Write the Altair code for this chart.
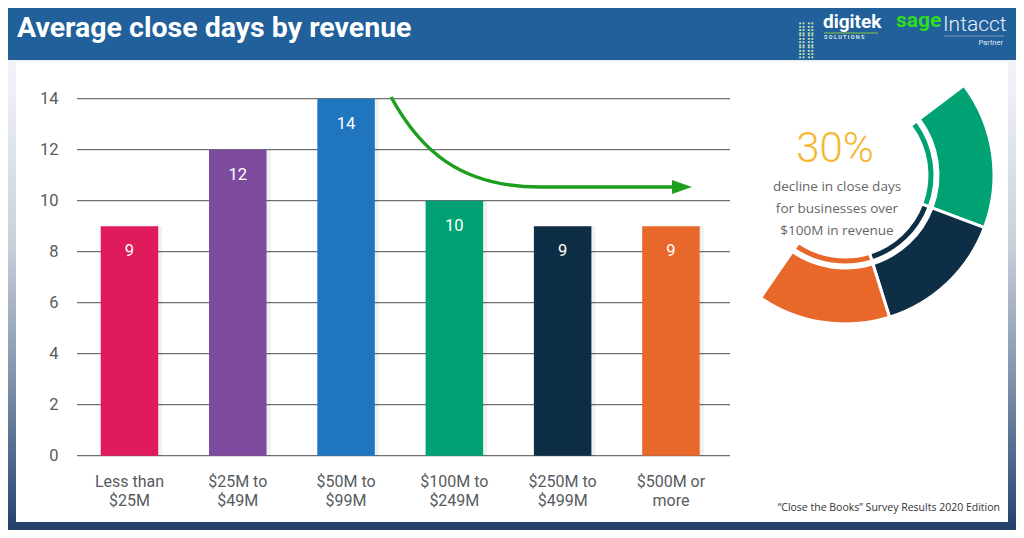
import altair as alt
import pandas as pd

# ---------------- data ----------------
categories = ["Less than $25M", "$25M to $49M", "$50M to $99M",
              "$100M to $249M", "$250M to $499M", "$500M or more"]
close_days = [9, 12, 14, 10, 9, 9]
bar_colors = ["#df1b5b", "#7d4a9e", "#1f76bf", "#00a274", "#0e2e45", "#e8672a"]
y_ticks = [0, 2, 4, 6, 8, 10, 12, 14]

ring_categories = ["$100M to $249M", "$250M to $499M", "$500M or more"]
ring_values = [10, 9, 9]
ring_colors = ["#00a274", "#0e2e45", "#e8672a"]

title_text = "Average close days by revenue"
headline = "30%"
headline_lines = ["decline in close days", "for businesses over", "$100M in revenue"]
source_text = "\u201cClose the Books\u201d Survey Results 2020 Edition"

FONT = "Open Sans"
AXIS_FONT = "Roboto"

# plot area: page x 77..730, page y 98.7..455.7
PLOT_W, PLOT_H = 653, 357
PAD = {"left": 69, "top": 90.7, "right": 286, "bottom": 74.3}


def px(x):  # page x -> plot x
    return x - 77


def py(y):  # page y -> plot y
    return y - 98.7


bars_df = pd.DataFrame({"cat": categories, "v": close_days, "color": bar_colors})
ticks_df = pd.DataFrame({"v": y_ticks})
ring_df = pd.DataFrame({"cat": ring_categories, "v": ring_values,
                        "color": ring_colors, "i": list(range(len(ring_values)))})
one = pd.DataFrame({"k": [0]})

xscale = alt.Scale(domain=categories, range=[0, 646.4], paddingInner=0.469, paddingOuter=0.219)
yscale = alt.Scale(domain=[0, 14], nice=False)

x_axis = alt.Axis(title=None, domain=False, ticks=False, grid=False, labelAngle=0,
                  zindex=1, labelPadding=17.5, labelLineHeight=19.5,
                  labelFont=AXIS_FONT, labelFontSize=16, labelColor="#575b60",
                  labelExpr="[slice(datum.label, 0, lastindexof(datum.label, ' ')), "
                            "slice(datum.label, lastindexof(datum.label, ' ') + 1)]")
y_axis = alt.Axis(title=None, domain=False, ticks=False, grid=False, values=y_ticks,
                  zindex=1, labelPadding=19, labelFont=AXIS_FONT,
                  labelFontSize=16.5, labelColor="#575b60")

X = alt.X("cat:N", sort=categories, scale=xscale, axis=x_axis)
Y = alt.Y("v:Q", scale=yscale, axis=y_axis)

# ---------------- background ----------------
grad = alt.LinearGradient(
    gradient="linear", x1=0, x2=0, y1=0, y2=1,
    stops=[alt.GradientStop(color="#f3f5f8", offset=0.0),
           alt.GradientStop(color="#eef1f5", offset=0.15),
           alt.GradientStop(color="#c9d1dc", offset=0.45),
           alt.GradientStop(color="#8495ad", offset=0.7),
           alt.GradientStop(color="#3a5680", offset=0.93),
           alt.GradientStop(color="#22406a", offset=1.0)])

bg = alt.Chart(one).mark_rect(fill=grad).encode(
    x=alt.value(px(8)), x2=alt.value(px(1016)), y=alt.value(py(8)), y2=alt.value(py(530)))
header = alt.Chart(one).mark_rect(fill="#21609a").encode(
    x=alt.value(px(8)), x2=alt.value(px(1016)), y=alt.value(py(8)), y2=alt.value(py(60)))
panel = alt.Chart(one).mark_rect(fill="#ffffff").encode(
    x=alt.value(px(16)), x2=alt.value(px(1008)), y=alt.value(py(62)), y2=alt.value(py(522)))

# ---------------- bar chart ----------------
grid = alt.Chart(ticks_df).mark_rule(color="#707070", strokeWidth=1.2).encode(
    y=Y, x=alt.value(0), x2=alt.value(PLOT_W))

shadow = alt.Chart(bars_df).mark_bar(color="#000000", opacity=0.06, xOffset=4).encode(
    x=X, y=Y)

bars = alt.Chart(bars_df).mark_bar().encode(
    x=X, y=Y, color=alt.Color("color:N", scale=None))

bar_labels = alt.Chart(bars_df).mark_text(
    color="white", font=AXIS_FONT, fontSize=16.5, dy=25, baseline="middle").encode(
    x=X, y=Y, text=alt.Text("v:Q"))

# ---------------- trend arrow ----------------
arrow_line = alt.Chart(one).mark_point(
    shape="M -0.993 -0.3 C -0.8 0.053 -0.533 0.3 0 0.3 L 0.9 0.3",
    filled=False, stroke="#1e9e1e", strokeWidth=3.5, size=90000, opacity=1).encode(
    x=alt.value(px(540)), y=alt.value(py(142)))
arrow_head = alt.Chart(one).mark_point(
    shape="M 0.88 0.253 L 1.013 0.3 L 0.88 0.347 Z",
    filled=True, fill="#1e9e1e", size=90000, opacity=1).encode(
    x=alt.value(px(540)), y=alt.value(py(142)))

# ---------------- donut ----------------
theta_scale = alt.Scale(range=[0.925, 3.744])
cx, cy = px(845), py(175)
ring_thin = alt.Chart(ring_df).mark_arc(radius=90, radius2=82, stroke="white", strokeWidth=3).encode(
    theta=alt.Theta("v:Q", stack=True, scale=theta_scale),
    order=alt.Order("i:Q"),
    color=alt.Color("color:N", scale=None),
    x=alt.value(cx), y=alt.value(cy))
ring_thick = alt.Chart(ring_df).mark_arc(radius=149, radius2=93, stroke="white", strokeWidth=3).encode(
    theta=alt.Theta("v:Q", stack=True, scale=theta_scale),
    order=alt.Order("i:Q"),
    color=alt.Color("color:N", scale=None),
    x=alt.value(cx), y=alt.value(cy))

pct = alt.Chart(one).mark_text(text=headline, font="Roboto", fontWeight=300, fontSize=42,
                               color="#f5b731", align="center", baseline="middle").encode(
    x=alt.value(px(835)), y=alt.value(py(149)))
desc = alt.Chart(one).mark_text(text=headline_lines, font=FONT, fontSize=13.5, lineHeight=22,
                                color="#666666", align="center", baseline="middle").encode(
    x=alt.value(px(837)), y=alt.value(py(187)))

# ---------------- header texts ----------------
title = alt.Chart(one).mark_text(text=title_text, font="Roboto", fontWeight="bold", fontSize=28.5,
                                 color="white", align="left", baseline="alphabetic").encode(
    x=alt.value(px(17)), y=alt.value(py(37)))
icon = alt.Chart(one).mark_text(text=["\u28ff\u28ff", "\u28ff\u28ff", "\u28ff\u28ff"],
                                font="DejaVu Sans", fontSize=12, lineHeight=12,
                                color="#cfe6b5", align="center", baseline="middle").encode(
    x=alt.value(px(806)), y=alt.value(py(28)))
digitek = alt.Chart(one).mark_text(text="digitek", font="Roboto", fontWeight="bold", fontSize=19,
                                   color="white", align="left", baseline="alphabetic").encode(
    x=alt.value(px(823)), y=alt.value(py(28)))
digitek_line = alt.Chart(one).mark_rule(color="#8cc63f", strokeWidth=1).encode(
    x=alt.value(px(824)), x2=alt.value(px(878)), y=alt.value(py(33)))
solutions = alt.Chart(one).mark_text(text="S O L U T I O N S", font="Roboto", fontWeight="bold",
                                     fontSize=5.5, color="#dfe6ee", align="left",
                                     baseline="alphabetic").encode(
    x=alt.value(px(824)), y=alt.value(py(39)))
sage = alt.Chart(one).mark_text(text="sage", font="Roboto", fontWeight="bold", fontSize=21,
                                color="#2fdc1f", align="left", baseline="alphabetic").encode(
    x=alt.value(px(896)), y=alt.value(py(27)))
intacct = alt.Chart(one).mark_text(text="Intacct", font="Roboto", fontWeight=300, fontSize=21,
                                   color="#e8eef5", align="left", baseline="alphabetic").encode(
    x=alt.value(px(943)), y=alt.value(py(31)))
intacct_line = alt.Chart(one).mark_rule(color="#8fa9c6", strokeWidth=0.8).encode(
    x=alt.value(px(944)), x2=alt.value(px(1004)), y=alt.value(py(36)))
partner = alt.Chart(one).mark_text(text="Partner", font="Roboto", fontSize=7.5,
                                   color="#dfe6ee", align="right", baseline="alphabetic").encode(
    x=alt.value(px(1003)), y=alt.value(py(45)))

source = alt.Chart(one).mark_text(text=source_text, font=FONT, fontSize=10.5, color="#333333",
                                  align="right", baseline="middle").encode(
    x=alt.value(px(1000)), y=alt.value(py(508)))

chart = alt.layer(
    bg, header, panel, grid, shadow, bars, bar_labels, arrow_line, arrow_head,
    ring_thin, ring_thick, pct, desc,
    title, icon, digitek, digitek_line, solutions, sage, intacct, intacct_line, partner,
    source
).properties(
    width=PLOT_W, height=PLOT_H, padding=PAD, autosize=alt.AutoSizeParams(type="none"),
    background="white"
).configure_view(stroke=None)

chart.save("out.html", embed_options={"renderer": "svg", "actions": False})
